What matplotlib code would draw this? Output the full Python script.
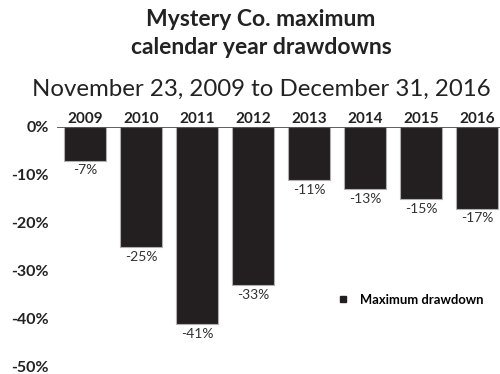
import matplotlib.pyplot as plt
from matplotlib.lines import Line2D

plt.rcParams['font.family'] = ['Lato', 'DejaVu Sans']

years = ['2009', '2010', '2011', '2012', '2013', '2014', '2015', '2016']
drawdowns = [-7, -25, -41, -33, -11, -13, -15, -17]
yticks = [0, -10, -20, -30, -40, -50]

bar_color = '#231f20'

fig = plt.figure(figsize=(5, 3.74), dpi=100)
ax = fig.add_axes([57 / 500, 1 - 367 / 374, 448 / 500, 240 / 374])

x = range(len(years))
ax.bar(x, drawdowns, width=0.74, color=bar_color, edgecolor='#b0b0b0',
       linewidth=0.8, zorder=2)

for xi, v in zip(x, drawdowns):
    ax.text(xi, v - 0.8, f'{v}%', ha='center', va='top', fontsize=10, color='#333333')

ax.set_xlim(-0.5, len(years) - 0.5)
ax.set_ylim(-50, 0)
ax.axhline(0, color='#444444', linewidth=1.2, zorder=3)

ax.xaxis.tick_top()
ax.set_xticks(list(x))
ax.set_xticklabels(years, fontsize=11, fontweight='bold', color='#222222')
ax.set_yticks(yticks)
ax.set_yticklabels([f'{t}%' for t in yticks], fontsize=11.5, fontweight='bold', color='#222222')
ax.tick_params(length=0, pad=1)
ax.tick_params(axis='y', pad=6)
for s in ax.spines.values():
    s.set_visible(False)

# small square key for the series
key = Line2D([], [], marker='s', linestyle='none', markersize=4, color=bar_color)
fig.legend([key], ['Maximum drawdown'], loc='center left',
           bbox_to_anchor=(325 / 500, 1 - 300 / 374), frameon=False,
           handlelength=1.0, handletextpad=0.75, prop={'size': 9.4, 'weight': 'bold'})

fig.text(0.522, 1 - 20 / 374, 'Mystery Co. maximum', ha='center', va='center',
         fontsize=16.5, fontweight='bold', color='#222222')
fig.text(0.522, 1 - 47 / 374, 'calendar year drawdowns', ha='center', va='center',
         fontsize=16.5, fontweight='bold', color='#222222')
fig.text(0.522, 1 - 89 / 374, 'November 23, 2009 to December 31, 2016', ha='center',
         va='center', fontsize=17.3, color='#222222')

fig.savefig('out.png', dpi=100)
